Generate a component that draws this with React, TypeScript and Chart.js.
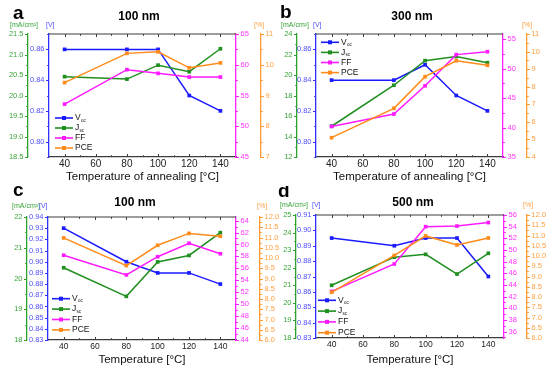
import React, { useEffect, useRef } from 'react';
import { Chart, registerables } from 'chart.js';

Chart.register(...registerables);

// ---------- data ----------
const temps = [40, 80, 100, 120, 140];
const xTickValues = [40, 60, 80, 100, 120, 140];
const xMinorValues = [30, 50, 70, 90, 110, 130, 150];

// panel a (100 nm, annealing)
const vocA = [0.86, 0.86, 0.86, 0.83, 0.82];
const jscA = [20.46, 20.4, 20.74, 20.58, 21.14];
const ffA = [53.6, 59.2, 58.6, 58.0, 58.0];
const pceA = [9.42, 10.37, 10.42, 9.9, 10.06];
const jscTicksA = [18.5, 19.0, 19.5, 20.0, 20.5, 21.0, 21.5];
const vocTicksA = [0.8, 0.82, 0.84, 0.86];
const ffTicksA = [45, 50, 55, 60, 65];
const pceTicksA = [7, 8, 9, 10, 11];

// panel b (300 nm, annealing)
const vocB = [0.84, 0.84, 0.85, 0.83, 0.82];
const jscB = [15.0, 19.0, 21.4, 21.8, 21.2];
const ffB = [40.2, 42.3, 47.1, 52.4, 52.9];
const pceB = [5.1, 6.77, 8.57, 9.48, 9.22];
const jscTicksB = [12, 14, 16, 18, 20, 22, 24];
const vocTicksB = [0.8, 0.82, 0.84, 0.86];
const ffTicksB = [35, 40, 45, 50, 55];
const pceTicksB = [4, 5, 6, 7, 8, 9, 10, 11];

// panel c (100 nm)
const vocC = [0.93, 0.9, 0.89, 0.89, 0.88];
const jscC = [20.35, 19.42, 20.54, 20.75, 21.49];
const ffC = [58.2, 54.9, 57.95, 60.2, 58.45];
const pceC = [10.98, 9.63, 10.62, 11.2, 11.06];
const jscTicksC = [18, 19, 20, 21, 22];
const vocTicksC = [0.83, 0.84, 0.85, 0.86, 0.87, 0.88, 0.89, 0.9, 0.91, 0.92, 0.93, 0.94];
const ffTicksC = [44, 46, 48, 50, 52, 54, 56, 58, 60, 62, 64];
const pceTicksC = [6.0, 6.5, 7.0, 7.5, 8.0, 8.5, 9.0, 9.5, 10.0, 10.5, 11.0, 11.5, 12.0];

// panel d (500 nm)
const vocD = [0.895, 0.89, 0.895, 0.895, 0.87];
const jscD = [21.0, 22.6, 22.76, 21.64, 22.82];
const ffD = [42.9, 47.6, 54.0, 54.1, 54.7];
const pceD = [8.23, 10.03, 10.98, 10.54, 10.88];
const jscTicksD = [18, 19, 20, 21, 22, 23, 24, 25];
const vocTicksD = [0.83, 0.84, 0.85, 0.86, 0.87, 0.88, 0.89, 0.9, 0.91];
const ffTicksD = [36, 38, 40, 42, 44, 46, 48, 50, 52, 54, 56];
const pceTicksD = [6.0, 6.5, 7.0, 7.5, 8.0, 8.5, 9.0, 9.5, 10.0, 10.5, 11.0, 11.5, 12.0];

// ---------- styling ----------
const FAMILY = "'Liberation Sans', Arial, sans-serif";
const BLUE = '#1a1aff';
const GREEN = '#1f8f1f';
const MAGENTA = '#ff1aff';
const ORANGE = '#ff8c1a';
const GREEN_AX = '#2ea02e';
const BLUE_AX = '#3030ff';
const MAGENTA_AX = '#ff22ff';
const ORANGE_AX = '#ff9a30';
const GREEN_LBL = '#3aa53a';
const BLUE_LBL = '#5050ff';
const MAGENTA_LBL = '#ff33ff';
const ORANGE_LBL = '#ff9f40';
const GRAY = '#3c3c3c';

const W = 275;
const H = 186;

type AxisSpec = { min: number; max: number; majors: number[]; dec: number; minor: boolean };

const panels = [
  {
    letter: 'a', title: '100 nm', xTitle: 'Temperature of annealing [\u00B0C]', cw: 275,
    voc: vocA, jsc: jscA, ff: ffA, pce: pceA,
    jAx: { min: 18.5, max: 21.5, majors: jscTicksA, dec: 1, minor: true },
    vAx: { min: 0.79, max: 0.87, majors: vocTicksA, dec: 2, minor: true },
    fAx: { min: 45, max: 65, majors: ffTicksA, dec: 0, minor: true },
    pAx: { min: 7, max: 11, majors: pceTicksA, dec: 0, minor: true },
    geo: { g: 28, b: 49, r: 236, o: 261, top: 34, bottom: 157, xFont: 10, xPad: 1.5, titlePad: 2,
      legX: 55, legY: 118, legDy: 10, letterX: 13, letterY: 19, titleX: 139, titleY: 20,
      unitY: 25, mAX: 10, vX: 46, pctX: 254 },
  },
  {
    letter: 'b', title: '300 nm', xTitle: 'Temperature of annealing [\u00B0C]', cw: 275,
    voc: vocB, jsc: jscB, ff: ffB, pce: pceB,
    jAx: { min: 12, max: 24, majors: jscTicksB, dec: 0, minor: true },
    vAx: { min: 0.79, max: 0.87, majors: vocTicksB, dec: 2, minor: true },
    fAx: { min: 35, max: 55.9, majors: ffTicksB, dec: 0, minor: true },
    pAx: { min: 4, max: 11, majors: pceTicksB, dec: 0, minor: true },
    geo: { g: 22, b: 41, r: 228, o: 252, top: 34, bottom: 157, xFont: 10, xPad: 1.5, titlePad: 2,
      legX: 46, legY: 42.3, legDy: 10.1, letterX: 5, letterY: 18, titleX: 137, titleY: 20,
      unitY: 25, mAX: 6, vX: 38, pctX: 247 },
  },
  {
    letter: 'c', title: '100 nm', xTitle: 'Temperature [\u00B0C]', cw: 282,
    voc: vocC, jsc: jscC, ff: ffC, pce: pceC,
    jAx: { min: 18, max: 22, majors: jscTicksC, dec: 0, minor: true },
    vAx: { min: 0.83, max: 0.94, majors: vocTicksC, dec: 2, minor: false },
    fAx: { min: 44, max: 64.6, majors: ffTicksC, dec: 0, minor: true },
    pAx: { min: 6, max: 12, majors: pceTicksC, dec: 1, minor: true },
    geo: { g: 27, b: 48, r: 236, o: 260, top: 31, bottom: 154, xFont: 8.5, xPad: 2, titlePad: 5,
      legX: 52, legY: 112.7, legDy: 10.4, letterX: 13, letterY: 10, titleX: 135, titleY: 20,
      unitY: 20, mAX: 12, vX: 39, pctX: 257 },
  },
  {
    letter: 'd', title: '500 nm', xTitle: 'Temperature [\u00B0C]', cw: 275,
    voc: vocD, jsc: jscD, ff: ffD, pce: pceD,
    jAx: { min: 18, max: 25, majors: jscTicksD, dec: 0, minor: true },
    vAx: { min: 0.83, max: 0.91, majors: vocTicksD, dec: 2, minor: false },
    fAx: { min: 34.9, max: 56, majors: ffTicksD, dec: 0, minor: true },
    pAx: { min: 6, max: 12, majors: pceTicksD, dec: 1, minor: true },
    geo: { g: 21, b: 41, r: 229, o: 252, top: 29, bottom: 152, xFont: 8.5, xPad: 2, titlePad: 5,
      legX: 43, legY: 114.3, legDy: 10.8, letterX: 3, letterY: 11, titleX: 138, titleY: 20,
      unitY: 19, mAX: 5, vX: 37, pctX: 248 },
  },
];

function minorValues(a: AxisSpec): number[] {
  if (!a.minor || a.majors.length < 2) return [];
  const half = (a.majors[1] - a.majors[0]) / 2;
  const out: number[] = [];
  const eps = half * 0.01;
  for (let v = a.majors[0] - half; v >= a.min - eps; v -= 2 * half) out.push(v);
  for (let v = a.majors[0] + half; v <= a.max + eps; v += 2 * half) out.push(v);
  return out;
}

function yScale(spec: AxisSpec, pos: string, weight: number, width: number, color: string, lbl: string) {
  return {
    type: 'linear',
    position: pos,
    weight,
    min: spec.min,
    max: spec.max,
    afterBuildTicks: (s: any) => { s.ticks = spec.majors.map((v) => ({ value: v })); },
    afterFit: (s: any) => { s.width = width; },
    grid: { display: false, drawTicks: false, drawOnChartArea: false },
    border: { display: true, color, width: 1.3 },
    ticks: {
      autoSkip: false,
      padding: 4.5,
      color: lbl,
      font: { family: FAMILY, size: 7.5 },
      callback: (v: any) => Number(v).toFixed(spec.dec),
    },
  };
}

function decorPlugin(p: any) {
  return {
    id: 'decor' + p.letter,
    afterDraw(chart: any) {
      const ctx = chart.ctx as CanvasRenderingContext2D;
      const ca = chart.chartArea;
      const g = p.geo;
      const seg = (x1: number, y1: number, x2: number, y2: number) => {
        ctx.beginPath(); ctx.moveTo(x1, y1); ctx.lineTo(x2, y2); ctx.stroke();
      };
      ctx.save();
      // top frame
      ctx.strokeStyle = GRAY; ctx.lineWidth = 1.2;
      seg(ca.left, ca.top, ca.right, ca.top);
      // x ticks (inward, top and bottom)
      const xs = chart.scales.x;
      ctx.lineWidth = 1;
      xTickValues.forEach((v) => {
        const px = Math.round(xs.getPixelForValue(v)) + 0.5;
        seg(px, ca.bottom, px, ca.bottom - 3);
        seg(px, ca.top, px, ca.top + 3);
      });
      xMinorValues.forEach((v) => {
        const px = Math.round(xs.getPixelForValue(v)) + 0.5;
        if (px < ca.left + 1 || px > ca.right - 1) return;
        seg(px, ca.bottom, px, ca.bottom - 1.8);
        seg(px, ca.top, px, ca.top + 1.8);
      });
      // y ticks (outward)
      const axes: [string, AxisSpec, string, boolean][] = [
        ['yJ', p.jAx, GREEN_AX, true],
        ['yV', p.vAx, BLUE_AX, true],
        ['yF', p.fAx, MAGENTA_AX, false],
        ['yP', p.pAx, ORANGE_AX, false],
      ];
      axes.forEach(([id, spec, col, left]) => {
        const s = chart.scales[id];
        const edge = left ? s.right : s.left;
        ctx.strokeStyle = col; ctx.lineWidth = 1;
        const dir = left ? -1 : 1;
        spec.majors.forEach((v) => {
          const py = Math.round(s.getPixelForValue(v)) + 0.5;
          seg(edge, py, edge + dir * 3, py);
        });
        minorValues(spec).forEach((v) => {
          const py = Math.round(s.getPixelForValue(v)) + 0.5;
          seg(edge, py, edge + dir * 1.8, py);
        });
      });
      // panel letter
      ctx.fillStyle = '#000';
      ctx.textBaseline = 'alphabetic';
      ctx.textAlign = 'left';
      ctx.font = `bold 19px ${FAMILY}`;
      ctx.fillText(p.letter, g.letterX, g.letterY);
      // title
      ctx.font = `bold 12px ${FAMILY}`;
      ctx.textAlign = 'center';
      ctx.fillText(p.title, g.titleX, g.titleY);
      // unit labels
      ctx.textAlign = 'left';
      ctx.textBaseline = 'middle';
      ctx.font = `7px ${FAMILY}`;
      ctx.fillStyle = GREEN_LBL;
      ctx.fillText('[mA/cm\u00B2]', g.mAX, g.unitY);
      ctx.fillStyle = BLUE_LBL;
      ctx.fillText('[V]', g.vX, g.unitY);
      ctx.fillStyle = ORANGE_LBL;
      ctx.fillText('[%]', g.pctX, g.unitY);
      // legend
      const entries = [
        { t: 'V', sub: 'oc', c: BLUE },
        { t: 'J', sub: 'sc', c: GREEN },
        { t: 'FF', sub: '', c: MAGENTA },
        { t: 'PCE', sub: '', c: ORANGE },
      ];
      entries.forEach((e, i) => {
        const y = g.legY + i * g.legDy;
        ctx.strokeStyle = e.c; ctx.lineWidth = 1.6;
        seg(g.legX, y, g.legX + 18, y);
        ctx.fillStyle = e.c;
        ctx.fillRect(g.legX + 9 - 2, y - 2, 4, 4);
        ctx.fillStyle = '#111';
        ctx.font = `8.5px ${FAMILY}`;
        ctx.textBaseline = 'middle';
        ctx.fillText(e.t, g.legX + 20, y);
        if (e.sub) {
          const w = ctx.measureText(e.t).width;
          ctx.font = `4.5px ${FAMILY}`;
          ctx.fillText(e.sub, g.legX + 20 + w + 0.3, y + 2.5);
        }
      });
      ctx.restore();
    },
  };
}

function makeChart(canvas: HTMLCanvasElement, p: any) {
  const g = p.geo;
  const ds = (label: string, vals: number[], axis: string, color: string, order: number) => ({
    label,
    data: temps.map((t, i) => ({ x: t, y: vals[i] })),
    yAxisID: axis,
    borderColor: color,
    backgroundColor: color,
    borderWidth: 1.5,
    pointStyle: 'rect',
    pointRadius: 2.6,
    pointBorderWidth: 0,
    pointBackgroundColor: color,
    tension: 0,
    order,
  });
  return new Chart(canvas, {
    type: 'line',
    data: {
      datasets: [
        ds('Voc', p.voc, 'yV', BLUE, 4),
        ds('Jsc', p.jsc, 'yJ', GREEN, 3),
        ds('FF', p.ff, 'yF', MAGENTA, 2),
        ds('PCE', p.pce, 'yP', ORANGE, 1),
      ],
    },
    options: {
      responsive: false,
      animation: false,
      devicePixelRatio: 1,
      layout: { padding: { top: g.top, left: 0, right: 0, bottom: 0 } },
      plugins: { legend: { display: false }, tooltip: { enabled: false }, title: { display: false } },
      scales: {
        x: {
          type: 'linear',
          position: 'bottom',
          min: 30,
          max: 150,
          afterBuildTicks: (s: any) => { s.ticks = xTickValues.map((v) => ({ value: v })); },
          afterFit: (s: any) => { s.height = H - g.bottom; },
          grid: { display: false, drawTicks: false, drawOnChartArea: false },
          border: { display: true, color: GRAY, width: 1.2 },
          ticks: {
            autoSkip: false, maxRotation: 0, padding: g.xPad, color: '#222',
            font: { family: FAMILY, size: g.xFont },
          },
          title: {
            display: true, text: p.xTitle, color: '#111',
            font: { family: FAMILY, size: 11.5 },
            padding: { top: 0, bottom: g.titlePad },
          },
        },
        yJ: yScale(p.jAx, 'left', 2, g.g, GREEN_AX, GREEN_LBL),
        yV: yScale(p.vAx, 'left', 1, g.b - g.g, BLUE_AX, BLUE_LBL),
        yF: yScale(p.fAx, 'right', 1, g.o - g.r, MAGENTA_AX, MAGENTA_LBL),
        yP: yScale(p.pAx, 'right', 2, p.cw - g.o, ORANGE_AX, ORANGE_LBL),
      },
    } as any,
    plugins: [decorPlugin(p)],
  });
}

function Panel({ p, left, top }: { p: any; left: number; top: number }) {
  const ref = useRef<HTMLCanvasElement>(null);
  useEffect(() => {
    const chart = makeChart(ref.current as HTMLCanvasElement, p);
    return () => chart.destroy();
  }, [p]);
  return (
    <canvas
      ref={ref}
      width={p.cw}
      height={H}
      style={{ position: 'absolute', left, top, width: p.cw, height: H }}
    />
  );
}

export default function App() {
  return (
    <div style={{ position: 'fixed', left: 0, top: 0, width: 550, height: 372, background: '#fff', overflow: 'hidden' }}>
      {panels.map((p, i) => (
        <Panel key={p.letter} p={p} left={(i % 2) * W} top={Math.floor(i / 2) * H} />
      ))}
    </div>
  );
}
